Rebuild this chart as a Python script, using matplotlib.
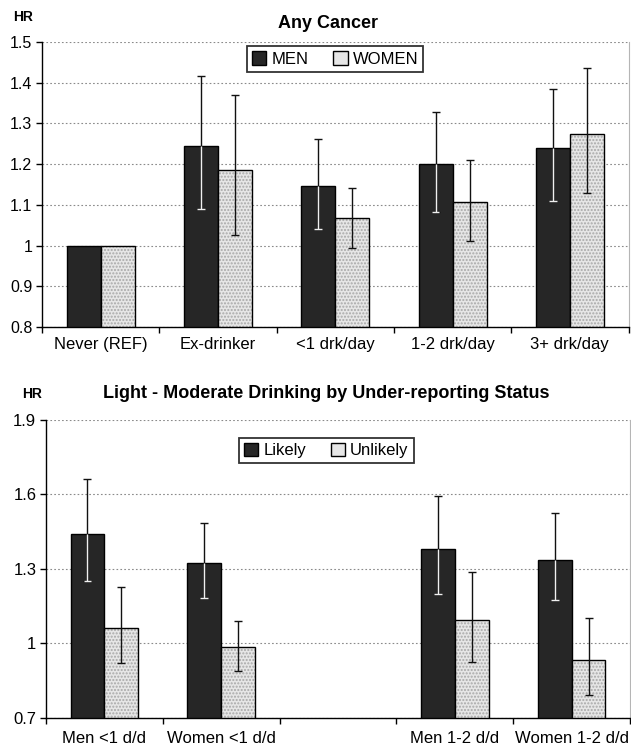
import matplotlib
matplotlib.use("Agg")
import matplotlib.pyplot as plt
import numpy as np
from matplotlib.patches import Patch

plt.rcParams['font.family'] = ['Liberation Sans', 'DejaVu Sans']

# --- top panel data: Any Cancer ---
cancer_cats = ["Never (REF)", "Ex-drinker", "<1 drk/day", "1-2 drk/day", "3+ drk/day"]
men_hr = [1.0, 1.245, 1.147, 1.201, 1.240]
men_lo = [np.nan, 1.091, 1.041, 1.083, 1.110]
men_hi = [np.nan, 1.417, 1.261, 1.327, 1.384]
women_hr = [1.0, 1.186, 1.067, 1.108, 1.273]
women_lo = [np.nan, 1.025, 0.994, 1.012, 1.129]
women_hi = [np.nan, 1.369, 1.142, 1.210, 1.436]

# --- bottom panel data: under-reporting status ---
drink_cats = ["Men <1 d/d", "Women <1 d/d", "", "Men 1-2 d/d", "Women 1-2 d/d"]
likely_hr = [1.440, 1.322, np.nan, 1.380, 1.336]
likely_lo = [1.250, 1.182, np.nan, 1.199, 1.174]
likely_hi = [1.664, 1.485, np.nan, 1.594, 1.524]
unlikely_hr = [1.061, 0.983, np.nan, 1.092, 0.930]
unlikely_lo = [0.919, 0.886, np.nan, 0.923, 0.790]
unlikely_hi = [1.227, 1.090, np.nan, 1.288, 1.100]

DARK = '#262626'
LIGHT = '#e6e6e6'
W, H = 631, 752
bw = 0.29


def draw_panel(ax, cats, v1, lo1, hi1, v2, lo2, hi2, ylim, yticks, ytlabels, labels,
               leg_anchor, tick_fs, cat_pad):
    x = np.arange(len(cats))
    v1, lo1, hi1 = map(np.asarray, (v1, lo1, hi1))
    v2, lo2, hi2 = map(np.asarray, (v2, lo2, hi2))
    base = ylim[0]
    # dark series
    ax.bar(x - bw/2, v1 - base, bw, bottom=base, color=DARK, edgecolor='black', linewidth=1.0, zorder=3)
    # light series, dotted texture then outline
    ax.bar(x + bw/2, v2 - base, bw, bottom=base, color=LIGHT, edgecolor='#a8a8a8', hatch='.....',
           linewidth=0, zorder=3)
    ax.bar(x + bw/2, v2 - base, bw, bottom=base, fill=False, edgecolor='black', linewidth=1.0, zorder=3.5)

    # error bars
    for xs, v, lo, hi in ((x - bw/2, v1, lo1, hi1), (x + bw/2, v2, lo2, hi2)):
        ax.errorbar(xs, v, yerr=[v - lo, hi - v], fmt='none', ecolor='#111111',
                    elinewidth=1.0, capsize=2.8, capthick=1.0, zorder=4)
    # inside the dark bars the error line shows up light
    m = ~np.isnan(lo1)
    seg_top = np.minimum(v1, hi1)
    ax.vlines((x - bw/2)[m], lo1[m], seg_top[m], color='#f0f0f0', linewidth=1.0, zorder=5)
    ax.hlines(lo1[m], (x - bw/2)[m] - 0.033, (x - bw/2)[m] + 0.033, color='#f0f0f0', linewidth=1.0, zorder=5)

    ax.set_xlim(-0.5, len(cats) - 0.5)
    ax.set_ylim(*ylim)
    ax.set_yticks(yticks)
    ax.set_yticklabels(ytlabels, fontsize=tick_fs)
    ax.yaxis.grid(True, linestyle=(0, (1.5, 2)), color='#8a8a8a', linewidth=0.8)
    ax.set_axisbelow(True)

    # Excel-style ticks: marks on boundaries, labels at centres
    ax.set_xticks(np.arange(len(cats) + 1) - 0.5)
    ax.set_xticklabels([])
    ax.set_xticks(x, minor=True)
    ax.set_xticklabels(cats, minor=True, fontsize=12)
    ax.tick_params(axis='x', which='major', length=4, width=1.0, direction='out')
    ax.tick_params(axis='x', which='minor', length=0, pad=cat_pad)
    ax.tick_params(axis='y', length=4, width=1.0, direction='out', pad=3)

    ax.spines['top'].set_visible(False)
    ax.spines['right'].set_color('#b5b5b5')
    ax.spines['right'].set_linewidth(0.8)
    ax.spines['left'].set_linewidth(1.0)
    ax.spines['bottom'].set_linewidth(1.0)

    handles = [Patch(facecolor=DARK, edgecolor='black', label=labels[0]),
               Patch(facecolor=LIGHT, edgecolor='black', label=labels[1])]
    leg = ax.legend(handles=handles, ncol=2, loc='upper center', bbox_to_anchor=leg_anchor,
                    fontsize=12, frameon=True, fancybox=False, edgecolor='black',
                    handlelength=0.85, handleheight=0.85, handletextpad=0.3,
                    columnspacing=1.5, borderpad=0.3, borderaxespad=0)
    leg.get_frame().set_linewidth(1.3)
    leg.set_zorder(10)


fig = plt.figure(figsize=(W/100, H/100), dpi=100)
fig.patch.set_facecolor('white')

ax1 = fig.add_axes([42/W, 1 - 327/H, (628.5 - 42)/W, (327 - 42)/H])
draw_panel(ax1, cancer_cats, men_hr, men_lo, men_hi, women_hr, women_lo, women_hi,
           (0.8, 1.5), [0.8, 0.9, 1.0, 1.1, 1.2, 1.3, 1.4, 1.5],
           ["0.8", "0.9", "1", "1.1", "1.2", "1.3", "1.4", "1.5"],
           ("MEN", "WOMEN"), (0.5, 0.985), 11.5, 7)

ax2 = fig.add_axes([46/W, 1 - 717.5/H, (630 - 46)/W, (717.5 - 420)/H])
draw_panel(ax2, drink_cats, likely_hr, likely_lo, likely_hi, unlikely_hr, unlikely_lo, unlikely_hi,
           (0.7, 1.9), [0.7, 1.0, 1.3, 1.6, 1.9],
           ["0.7", "1", "1.3", "1.6", "1.9"],
           ("Likely", "Unlikely"), (0.48, 0.94), 12, 10)

fig.text(328/W, 1 - 23/H, "Any Cancer", ha='center', va='center', fontsize=13, fontweight='bold')
fig.text(23/W, 1 - 17/H, "HR", ha='center', va='center', fontsize=10, fontweight='bold')
fig.text(326/W, 1 - 394/H, "Light - Moderate Drinking by Under-reporting Status",
         ha='center', va='center', fontsize=13, fontweight='bold')
fig.text(32/W, 1 - 394/H, "HR", ha='center', va='center', fontsize=10, fontweight='bold')

fig.savefig("out.png", dpi=100)
